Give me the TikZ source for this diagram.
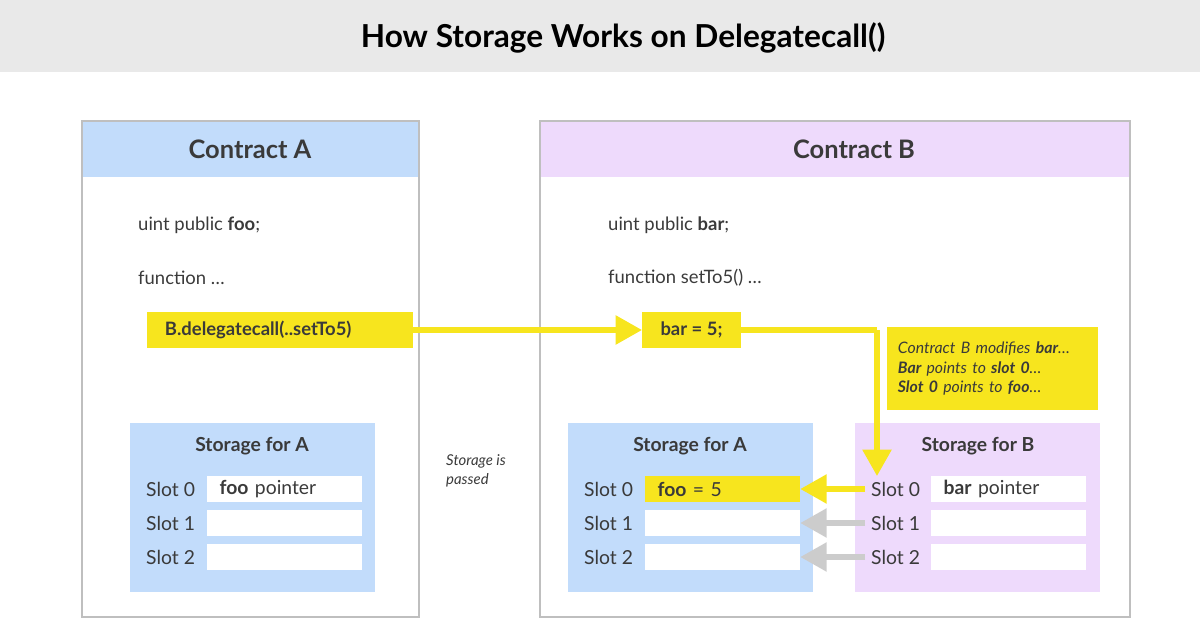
\documentclass[tikz,border=0pt]{standalone}
\usepackage{fontspec}
\setmainfont{Lato}
\usetikzlibrary{arrows.meta,positioning}
\definecolor{ylw}{HTML}{F7E51E}
\definecolor{blu}{HTML}{C2DCFB}
\definecolor{pur}{HTML}{EEDAFC}
\definecolor{txt}{HTML}{3A3A3A}
\definecolor{band}{HTML}{E9E9E9}
\tikzset{
  frame/.style={draw=black!25, line width=1pt},
  code/.style={anchor=west, font=\fontsize{10.5}{12}\selectfont, text=txt},
  slotlbl/.style={anchor=west, font=\fontsize{11}{12}\selectfont, text=txt},
  cell/.style={fill=white, text width=74pt, minimum height=15pt, inner ysep=0pt, inner xsep=7pt,
    anchor=west, align=left, font=\fontsize{11}{12}\selectfont, text=txt},
  flow/.style={ylw, line width=3pt, -{Triangle[length=15pt,width=16pt]}},
  ghost/.style={black!20, line width=3pt, -{Triangle[length=15pt,width=16pt]}}
}
\begin{document}
\begin{tikzpicture}[x=0.02cm,y=-0.02cm]
\useasboundingbox (0,0) rectangle (1200,634);

% title band
\fill[band] (0,0) rectangle (1200,72);
\node[font=\bfseries\fontsize{18}{20}\selectfont] (title) at (623,38) {How Storage Works on Delegatecall()};

% contract frames
\fill[blu] (82,121) rectangle (419,177);
\draw[frame] (82,121) rectangle (419,617);
\node[font=\bfseries\fontsize{14.5}{16}\selectfont, text=txt] (ca) at (250,149) {Contract A};
\fill[pur] (540,121) rectangle (1130,177);
\draw[frame] (540,121) rectangle (1130,617);
\node[font=\bfseries\fontsize{14.5}{16}\selectfont, text=txt] (cb) at (854,149) {Contract B};

% code lines
\node[code] (fooDecl) at (132,225) {uint public \textbf{foo};};
\node[code] (fnA) at (132,278) {function …};
\node[code] (barDecl) at (602,225) {uint public \textbf{bar};};
\node[code] (fnB) at (602,278) {function setTo5() …};
\node[fill=ylw, text width=131pt, minimum height=21pt, anchor=west, inner ysep=0pt, inner xsep=10pt,
  font=\bfseries\fontsize{10.5}{12}\selectfont, text=txt] (dcall) at (147,330)
  {B.delegatecall(..setTo5)};
\node[fill=ylw, minimum width=56pt, minimum height=21pt, anchor=west, inner sep=0pt,
  font=\bfseries\fontsize{10.5}{12}\selectfont, text=txt] (bar) at (642,330) {bar = 5;};

% note
\node[fill=ylw, text width=108pt, minimum height=47pt, anchor=north west, inner xsep=6pt, inner ysep=0pt,
  align=left, font=\itshape\fontsize{9}{11}\selectfont, text=txt] (note) at (887,327)
  {Contract B modifies \textbf{bar}…\\\textbf{Bar} points to \textbf{slot 0}…\\\textbf{Slot 0} points to \textbf{foo}…};

% storage for A (left)
\fill[blu] (130,423) rectangle (375,592);
\node[font=\bfseries\fontsize{11}{12}\selectfont, text=txt] (saL) at (252,446) {Storage for A};
\node[slotlbl] (aL0) at (140,489) {Slot 0};
\node[slotlbl] (aL1) at (140,523) {Slot 1};
\node[slotlbl] (aL2) at (140,557) {Slot 2};
\node[cell] (cL0) at (207,489) {\textbf{foo} pointer};
\node[cell] (cL1) at (207,523) {};
\node[cell] (cL2) at (207,557) {};

\node[anchor=north west, align=left, font=\itshape\fontsize{8.5}{11}\selectfont, text=txt] (passed) at (440,448) {Storage is\\passed};

% storage for A (right)
\fill[blu] (568,423) rectangle (813,592);
\node[font=\bfseries\fontsize{11}{12}\selectfont, text=txt] (saR) at (690,446) {Storage for A};
\node[slotlbl] (aR0) at (578,489) {Slot 0};
\node[slotlbl] (aR1) at (578,523) {Slot 1};
\node[slotlbl] (aR2) at (578,557) {Slot 2};
\node[cell, fill=ylw] (cR0) at (645,489) {\textbf{foo} = 5};
\node[cell] (cR1) at (645,523) {};
\node[cell] (cR2) at (645,557) {};

% storage for B
\fill[pur] (855,423) rectangle (1100,592);
\node[font=\bfseries\fontsize{11}{12}\selectfont, text=txt] (sb) at (978,446) {Storage for B};
\node[slotlbl] (b0) at (865,489) {Slot 0};
\node[slotlbl] (b1) at (865,523) {Slot 1};
\node[slotlbl] (b2) at (865,557) {Slot 2};
\node[cell] (d0) at (931,489) {\textbf{bar} pointer};
\node[cell] (d1) at (931,523) {};
\node[cell] (d2) at (931,557) {};

% arrows
\coordinate (bend) at (877,330);
\draw[flow] (dcall.east) -- (bar.west);
\draw[flow, -] (bar.east) -- (bend);
\draw[flow] (bend) -- (877,476);
\draw[flow] (b0.west) -- (cR0.east);
\draw[ghost] (b1.west) -- (cR1.east);
\draw[ghost] (b2.west) -- (cR2.east);
\end{tikzpicture}
\end{document}
